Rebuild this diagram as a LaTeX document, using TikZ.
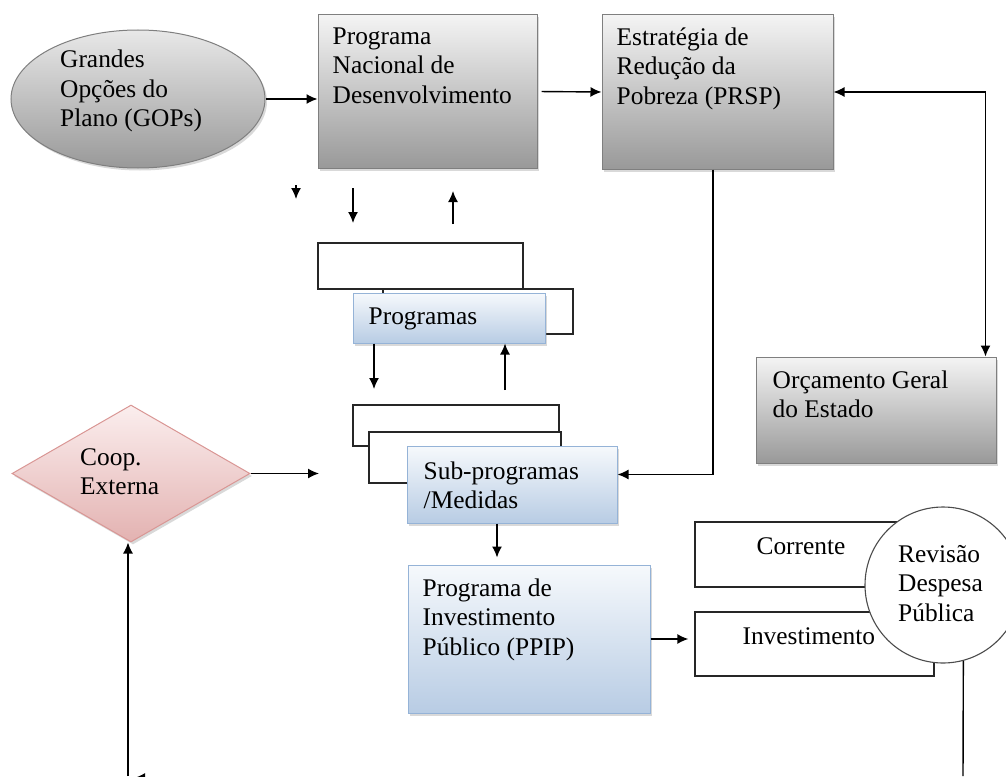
\documentclass[tikz,border=0pt]{standalone}
\usepackage{fontspec}
\setmainfont{Liberation Serif}
\usepackage{tikz}
\usetikzlibrary{arrows.meta,shapes.geometric,shadows}
\tikzset{>=latex}
\definecolor{mygraytop}{HTML}{F4F4F4}
\definecolor{mygraybot}{HTML}{999999}
\definecolor{mygrayline}{HTML}{7F7F7F}
\definecolor{mybluetop}{HTML}{F6F9FC}
\definecolor{mybluebot}{HTML}{B8CCE4}
\definecolor{myblueline}{HTML}{95B3D7}
\definecolor{mypinktop}{HTML}{FBEEEE}
\definecolor{mypinkbot}{HTML}{E3B2B1}
\definecolor{mypinkline}{HTML}{D99694}
\newcommand{\boxfont}{\fontsize{25.4}{29.5}\selectfont}
\tikzstyle{shade box}=[line width=1pt,inner sep=0pt,drop shadow={shadow xshift=2pt,shadow yshift=-2.5pt,opacity=0.3}]
\tikzstyle{gray box}=[shade box,rectangle,draw=mygrayline,top color=mygraytop,bottom color=mygraybot]
\tikzstyle{gray oval}=[shade box,ellipse,draw=mygrayline,top color=mygraytop!95!black,bottom color=mygraybot]
\tikzstyle{blue box}=[shade box,rectangle,draw=myblueline,top color=mybluetop,bottom color=mybluebot]
\tikzstyle{pink box}=[shade box,diamond,draw=mypinkline,top color=mypinktop,bottom color=mypinkbot]
\tikzstyle{plain box}=[rectangle,draw=black!85,fill=white,line width=1.3pt,inner sep=0pt]
\tikzstyle{plain circle}=[circle,draw=black!70,fill=white,line width=1.1pt,inner sep=0pt,minimum size=156]
\tikzstyle{txt}=[anchor=north west,align=left,inner sep=0pt,font=\boxfont]
\tikzstyle{flow}=[-{Latex[length=11pt,width=10pt]},line width=1.4pt]
\tikzstyle{line}=[line width=1.4pt]

\begin{document}
\begin{tikzpicture}[x=1pt,y=-1pt]
  \useasboundingbox (0,0) rectangle (1006,776);

  % top row
  \node[gray oval,minimum width=254,minimum height=138] (gop) at (138,99) {};
  \node[txt] (gopT) at ([xshift=-78pt,yshift=49pt]gop.center) {Grandes\\Opções do\\Plano (GOPs)};
  \node[gray box,minimum width=219,minimum height=153,
        label={[txt,xshift=15pt,yshift=-13pt]north west:{Programa\\Nacional de\\Desenvolvimento}}] (pnd) at (427.5,91.5) {};
  \node[gray box,minimum width=231,minimum height=154,
        label={[txt,xshift=15pt,yshift=-13pt]north west:{Estratégia de\\Redução da\\Pobreza (PRSP)}}] (prsp) at (717.5,92) {};
  \node[gray box,minimum width=240,minimum height=106,
        label={[txt,xshift=17pt,yshift=-14pt]north west:{Orçamento Geral\\do Estado}}] (ogd) at (876,410) {};

  % programas
  \node[plain box,minimum width=205,minimum height=46] (prgA) at (420.5,266) {};
  \node[plain box,minimum width=190,minimum height=45] (prgB) at (478,311.5) {};
  \node[blue box,minimum width=192,minimum height=50,
        label={[txt,xshift=16pt,yshift=-15pt]north west:{Programas}}] (prg) at (449,318) {};

  % sub-programas
  \node[plain box,minimum width=206,minimum height=41] (subA) at (456,425.5) {};
  \node[plain box,minimum width=192,minimum height=51] (subB) at (465,457.5) {};
  \node[blue box,minimum width=210,minimum height=77,
        label={[txt,xshift=17pt,yshift=-16pt]north west:{Sub-programas\\/Medidas}}] (sub) at (512,484.5) {};
  \node[blue box,minimum width=242,minimum height=148,
        label={[txt,xshift=15pt,yshift=-14pt]north west:{Programa de\\Investimento\\Público (PPIP)}}] (ppip) at (529,639) {};

  \node[pink box,minimum width=238,minimum height=137] (coop) at (131,473.5) {};
  \node[txt] (coopT) at ([xshift=-51pt,yshift=25.5pt]coop.center) {Coop.\\Externa};

  % despesa
  \node[plain box,minimum width=239,minimum height=65,
        label={[txt,xshift=62pt,yshift=-16pt]north west:{Corrente}}] (cor) at (814.5,554.5) {};
  \node[plain box,minimum width=239,minimum height=64,
        label={[txt,xshift=48pt,yshift=-16pt]north west:{Investimento}}] (inv) at (814.5,644) {};
  \node[plain circle] (rdp) at (943,585) {};
  \node[txt] (rdpT) at ([xshift=-45pt,yshift=40pt]rdp.center) {Revisão\\Despesa\\Pública};

  \coordinate (pndOut) at (353,188);
  \coordinate (prgIn) at (353,223);
  \coordinate (prgOut) at (453,224);
  \coordinate (pndIn) at (453,191);
  \coordinate (subIn) at (374,389);
  \coordinate (subOut) at (505,390);
  \coordinate (coopOut) at (319,475);
  \coordinate (botL) at (128,776);
  \coordinate (botR) at (963,776);
  \coordinate (tipA0) at (296,185);
  \coordinate (tipA) at (296,199);
  \coordinate (tipB0) at (152,778);
  \coordinate (tipB) at (134,778);

  \draw[flow] (gop.east) -- (gop.east -| pnd.west);
  \draw[flow,shorten <=4pt] (pnd.east) -- (prsp.west);
  \draw[{Latex[length=11pt,width=10pt]}-{Latex[length=11pt,width=10pt]},line width=1.4pt]
    (prsp.east) -| ([xshift=-11pt]ogd.north east);
  \draw[flow] ([xshift=-4.5pt]prsp.south) |- ([yshift=10pt]sub.east);
  \draw[flow] (pndOut) -- (prgIn);
  \draw[flow] (prgOut) -- (pndIn);
  \draw[flow] (prg.south -| subIn) -- (subIn);
  \draw[flow] (subOut) -- (subOut |- prg.south);
  \draw[flow] (coop.east) -- (coop.east -| coopOut);
  \draw[flow,shorten >=7pt] ([xshift=-15pt]sub.south) -- ([xshift=-15pt]sub.south |- ppip.north);
  \draw[flow,shorten >=6pt] (ppip.east) -- (ppip.east -| inv.west);
  \draw[line] (rdp.-75) -- (botR);
  \draw[flow] (botL) -- (botL |- coop.south);
  \draw[flow] (tipA0) -- (tipA);
  \draw[flow] (tipB0) -- (tipB);
\end{tikzpicture}
\end{document}
